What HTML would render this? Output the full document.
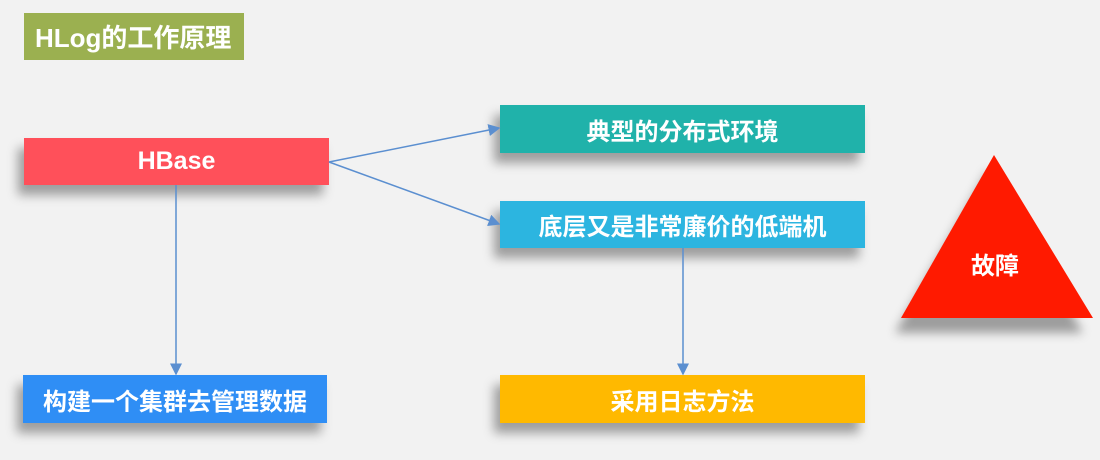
<!DOCTYPE html>
<html><head><meta charset="utf-8"><style>
body{margin:0;width:1100px;height:460px;background:#f2f2f2;position:relative;overflow:hidden;font-family:"Liberation Sans","Noto Sans CJK SC",sans-serif;}
.b{position:absolute;color:#fff;font-weight:bold;font-size:24px;display:flex;align-items:center;justify-content:center;box-shadow:-6px 10px 10px rgba(0,0,0,0.35);}
svg{position:absolute;left:0;top:0}
</style></head><body>
<div class="b" style="left:24px;top:13px;width:220px;height:47px;background:#9bb050;box-shadow:none;justify-content:flex-start;padding-left:11px;box-sizing:border-box;font-size:26px;">HLog的工作原理</div>
<div class="b" style="left:24px;top:138px;width:305px;height:47px;background:#ff505a;font-size:25px;">HBase</div>
<div class="b" style="left:500px;top:105px;width:365px;height:48px;background:#20b2aa;">典型的分布式环境</div>
<div class="b" style="left:500px;top:201px;width:365px;height:47px;background:#2cb5e0;">底层又是非常廉价的低端机</div>
<div class="b" style="left:500px;top:375px;width:365px;height:48px;background:#ffb900;">采用日志方法</div>
<div class="b" style="left:23px;top:375px;width:304px;height:48px;background:#2f8ef5;">构建一个集群去管理数据</div>
<svg width="1100" height="460">
<defs><marker id="a" markerWidth="8" markerHeight="8" refX="7" refY="4" orient="auto"><path d="M0,0 L8,4 L0,8 z" fill="#5b8fd0"/></marker>
<filter id="s"><feGaussianBlur stdDeviation="5"/></filter></defs>
<g stroke="#5b8fd0" stroke-width="1.5" fill="none">
<line x1="329" y1="162" x2="499" y2="128" marker-end="url(#a)"/>
<line x1="329" y1="162" x2="499" y2="224" marker-end="url(#a)"/>
<line x1="176" y1="185" x2="176" y2="374" marker-end="url(#a)"/>
<line x1="683" y1="248" x2="683" y2="374" marker-end="url(#a)"/>
</g>
<polygon points="988,170 895,333 1083,333" fill="rgba(0,0,0,0.35)" filter="url(#s)"/>
<polygon points="994,155 901,318 1093,318" fill="#ff1a00"/>
<text x="995" y="274" fill="#fff" font-size="24" font-weight="bold" text-anchor="middle" font-family="Liberation Sans,Noto Sans CJK SC,sans-serif">故障</text>
</svg>
</body></html>
